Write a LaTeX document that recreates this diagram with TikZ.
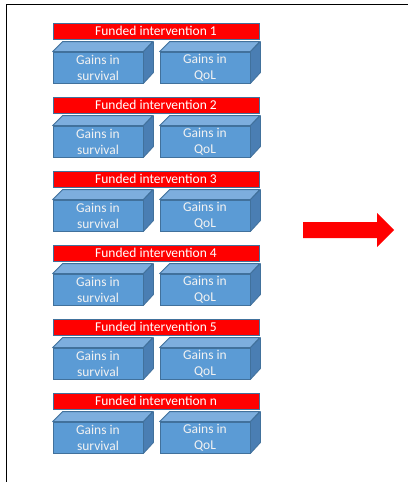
\documentclass[tikz,border=0pt]{standalone}
\usepackage{fontspec}
\setmainfont{Carlito}
\definecolor{boxfront}{HTML}{5B9BD5}
\definecolor{boxtop}{HTML}{7DAEDE}
\definecolor{boxside}{HTML}{4A7EB3}
\definecolor{boxedge}{HTML}{41719C}
\definecolor{txtlight}{HTML}{F2F2F2}
\tikzset{
  bar/.style={draw=boxedge, line width=0.8pt, fill=red, text=white,
    minimum width=206pt, minimum height=16pt, inner sep=0pt,
    font=\fontsize{13.5}{15}\selectfont},
  front/.style={draw=boxedge, line width=0.8pt, fill=boxfront, text=txtlight,
    minimum width=90pt, minimum height=31pt, inner sep=0pt, align=center,
    font=\fontsize{13.5}{16}\selectfont},
  topface/.style={draw=boxedge, line width=0.8pt, fill=boxtop, line join=round},
  sideface/.style={draw=boxedge, line width=0.8pt, fill=boxside, line join=round},
}
\begin{document}
\begin{tikzpicture}[x=1pt,y=-1pt]
\useasboundingbox (0,0) rectangle (408,482);
\fill[white] (0,0) rectangle (408,482);
% frame
\draw[line width=1.5pt, black] (6.5,482) -- (6.5,4.5) -- (408,4.5);
\foreach \lab [count=\i from 0] in {1,2,3,4,5,n}{
  \pgfmathsetmacro{\yz}{23+74*\i}
  \node[bar] (b\lab) at (156,\yz+8) {Funded intervention \lab};
  % survival box
  \node[front] (s\lab) at (98,\yz+44.5) {Gains in\\survival};
  \draw[topface] (s\lab.north west) -- ++(10,-10) -- ++(90,0) -- (s\lab.north east) -- cycle;
  \draw[sideface] (s\lab.north east) -- ++(10,-10) -- ++(0,31) -- (s\lab.south east) -- cycle;
  % QoL box
  \node[front] (q\lab) at (205,\yz+44.5) {Gains in\\QoL};
  \draw[topface] (q\lab.north west) -- ++(10,-10) -- ++(90,0) -- (q\lab.north east) -- cycle;
  \draw[sideface] (q\lab.north east) -- ++(10,-10) -- ++(0,31) -- (q\lab.south east) -- cycle;
}
% big arrow
\fill[red] (303,222) -- (377,222) -- (377,213) -- (394,230) -- (377,247) -- (377,238) -- (303,238) -- cycle;
\end{tikzpicture}
\end{document}
